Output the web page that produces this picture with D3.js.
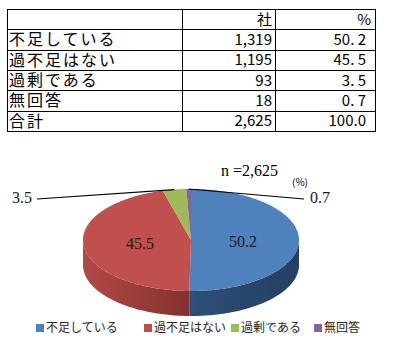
<!DOCTYPE html>
<html>
<head>
<meta charset="utf-8">
<script src="https://cdn.jsdelivr.net/npm/d3@7"></script>
<style>
  html, body { margin: 0; padding: 0; background: #fff; }
  svg { display: block; }
</style>
</head>
<body>
<svg id="chart"></svg>
<script>
// Table + 3D pie

var width = 394,
    height = 351;

// data
var categories = ["不足している", "過不足はない", "過剰である", "無回答"];
var counts = [1319, 1195, 93, 18];
var percents = [50.2, 45.5, 3.5, 0.7];
var totalLabel = "合計";
var totalCount = 2625;
var totalPercent = 100.0;
var headers = ["", "社", "%"];
var colors = ["#4f81bd", "#c0504d", "#9bbb59", "#8064a2"];
var sideColors = [["#2d4f78", "#243f62"], ["#b14a47", "#83302e"], ["#7f9a47", "#6d853c"], ["#6a5287", "#5a4573"]];

var svg = d3.select("#chart")
    .attr("width", width)
    .attr("height", height);

var fmtCount = d3.format(",");
function fmtPct(v) {
  // the table shows a wide gap after the point, except for 100.0
  var s = d3.format(".1f")(v);
  return v < 100 ? s.replace(".", ". ") : s;
}

// ---------- table ----------
var rows = [headers].concat(categories.map(function(c, i) {
  return [c, fmtCount(counts[i]), fmtPct(percents[i])];
})).concat([[totalLabel, fmtCount(totalCount), fmtPct(totalPercent)]]);

var colEdges = [7, 182, 275, 375];
var yRow = d3.scaleBand()
    .domain(d3.range(rows.length))
    .range([9, 131]);

var table = svg.append("g").attr("class", "table");

table.selectAll(".hline")
    .data(d3.range(rows.length + 1))
  .enter().append("line")
    .attr("x1", colEdges[0]).attr("x2", colEdges[3])
    .attr("y1", function(i) { return Math.round(i < rows.length ? yRow(i) : yRow.range()[1]) + 0.5; })
    .attr("y2", function(i) { return Math.round(i < rows.length ? yRow(i) : yRow.range()[1]) + 0.5; })
    .attr("stroke", "#000").attr("stroke-width", 1);

table.selectAll(".vline")
    .data(colEdges)
  .enter().append("line")
    .attr("x1", function(d) { return d + 0.5; }).attr("x2", function(d) { return d + 0.5; })
    .attr("y1", yRow.range()[0]).attr("y2", yRow.range()[1] + 1)
    .attr("stroke", "#000").attr("stroke-width", 1);

var tr = table.selectAll(".row")
    .data(rows)
  .enter().append("g")
    .attr("transform", function(d, i) { return "translate(0," + (yRow(i) + yRow.bandwidth() / 2) + ")"; });

tr.append("text")
    .attr("x", 9)
    .attr("dy", "0.36em")
    .style("font-family", "'Noto Sans CJK JP', sans-serif")
    .style("font-size", "16px")
    .style("letter-spacing", "2px")
    .text(function(d) { return d[0]; });

tr.append("text")
    .attr("x", 272)
    .attr("dy", "0.36em")
    .attr("text-anchor", "end")
    .style("font-family", "'Noto Sans CJK JP', sans-serif")
    .style("font-size", "15px")
    .text(function(d) { return d[1]; });

tr.append("text")
    .attr("x", function(d, i) { return i === 0 ? 371 : 366; })
    .attr("dy", "0.36em")
    .attr("text-anchor", "end")
    .style("font-family", "'Noto Sans CJK JP', sans-serif")
    .style("font-size", "15px")
    .text(function(d) { return d[2]; });

// ---------- 3D pie ----------
var cx = 191, cy = 240, rx = 108, ry = 51, depth = 25;

var pie = d3.pie().sort(null).value(function(d) { return d; });
var arcs = pie(percents);

function pt(a, dy) {
  return [cx + rx * Math.sin(a), cy - ry * Math.cos(a) + (dy || 0)];
}

function arcPoints(a0, a1, dy) {
  var n = Math.max(2, Math.ceil(Math.abs(a1 - a0) / 0.02));
  return d3.range(n + 1).map(function(k) { return pt(a0 + (a1 - a0) * k / n, dy); });
}

var defs = svg.append("defs");
sideColors.forEach(function(c, i) {
  var g = defs.append("linearGradient")
      .attr("id", "side" + i)
      .attr("gradientUnits", "userSpaceOnUse")
      .attr("x1", i === 1 ? cx - rx : cx).attr("x2", i === 1 ? cx : cx + rx)
      .attr("y1", 0).attr("y2", 0);
  g.append("stop").attr("offset", "0%").attr("stop-color", c[0]);
  g.append("stop").attr("offset", "100%").attr("stop-color", c[1]);
});

var pieG = svg.append("g").attr("class", "pie");
var line = d3.line();

// side walls, only the part facing the viewer (angles PI/2 .. 3PI/2)
arcs.forEach(function(d, i) {
  var a0 = Math.max(d.startAngle, Math.PI / 2),
      a1 = Math.min(d.endAngle, 3 * Math.PI / 2);
  if (a1 <= a0) return;
  var top = arcPoints(a0, a1, 0),
      bottom = arcPoints(a1, a0, depth);
  pieG.append("path")
      .attr("d", line(top.concat(bottom)) + "Z")
      .attr("fill", "url(#side" + i + ")");
});

// top faces
arcs.forEach(function(d, i) {
  var pts = [[cx, cy]].concat(arcPoints(d.startAngle, d.endAngle, 0));
  pieG.append("path")
      .attr("d", line(pts) + "Z")
      .attr("fill", colors[i]);
});

// inner labels for the two big slices
var serif = "'Liberation Serif', 'DejaVu Serif', serif";
var inside = [[243, 241], [140, 243]];
arcs.slice(0, 2).forEach(function(d, i) {
  svg.append("text")
      .attr("x", inside[i][0]).attr("y", inside[i][1])
      .attr("text-anchor", "middle")
      .attr("dy", "0.35em")
      .style("font-family", serif)
      .style("font-size", "16px")
      .attr("fill", "#1a1a1a")
      .text(d3.format(".1f")(d.data));
});

// leader lines for the small slices
var outside = [null, null, { end: [37, 199], tx: 12, anchor: "start" }, { end: [304, 199], tx: 310, anchor: "start" }];
arcs.forEach(function(d, i) {
  var o = outside[i];
  if (!o) return;
  var mid = (d.startAngle + d.endAngle) / 2,
      p = pt(mid, 0);
  svg.append("line")
      .attr("x1", p[0]).attr("y1", p[1])
      .attr("x2", o.end[0]).attr("y2", o.end[1])
      .attr("stroke", "#000").attr("stroke-width", 1.2);
  svg.append("text")
      .attr("x", o.tx).attr("y", 197)
      .attr("dy", "0.35em")
      .style("font-family", serif)
      .style("font-size", "16px")
      .attr("fill", "#1a1a1a")
      .text(d3.format(".1f")(d.data));
});

svg.append("text")
    .attr("x", 221).attr("y", 170)
    .attr("dy", "0.35em")
    .style("font-family", serif)
    .style("font-size", "16px")
    .text("n =" + fmtCount(totalCount));

svg.append("text")
    .attr("x", 292).attr("y", 182)
    .attr("dy", "0.35em")
    .style("font-family", "'Noto Sans CJK JP', sans-serif")
    .style("font-size", "10px")
    .text("(%)");

// ---------- legend ----------
var legendX = [36, 144, 231, 314];
var legend = svg.append("g").attr("class", "legend")
  .selectAll("g")
    .data(categories)
  .enter().append("g")
    .attr("transform", function(d, i) { return "translate(" + legendX[i] + ",328)"; });

legend.append("rect")
    .attr("x", 0).attr("y", -4)
    .attr("width", 8).attr("height", 8)
    .attr("fill", function(d, i) { return colors[i]; });

legend.append("text")
    .attr("x", 10)
    .attr("dy", "0.36em")
    .style("font-family", "'Noto Sans CJK JP', sans-serif")
    .style("font-size", "12px")
    .attr("fill", "#262626")
    .text(String);
</script>
</body>
</html>
